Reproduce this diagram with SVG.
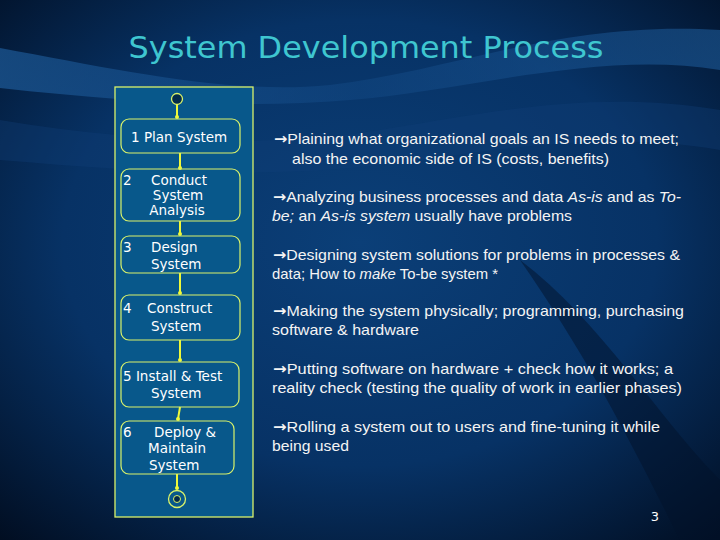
<svg xmlns="http://www.w3.org/2000/svg" width="720" height="540" viewBox="0 0 720 540">
<defs>
<radialGradient id="bg" cx="0.5" cy="0.45" r="0.75">
<stop offset="0" stop-color="#0b3f78"/>
<stop offset="0.55" stop-color="#073265"/>
<stop offset="1" stop-color="#010d20"/>
</radialGradient>
<linearGradient id="wave" x1="0" y1="0" x2="1" y2="0">
<stop offset="0" stop-color="#1d5a98" stop-opacity="0.7"/>
<stop offset="0.5" stop-color="#154d8a" stop-opacity="0.4"/>
<stop offset="1" stop-color="#1d5a98" stop-opacity="0.6"/>
</linearGradient>
<style>
.node{fill:none;stroke:#d9f26a;stroke-width:1.2}
.nt{font-family:"DejaVu Sans",Verdana,sans-serif;font-size:13.5px;fill:#ffffff}
.conn{stroke:#eef83a;stroke-width:2;fill:none}
.dot{fill:#eef83a}
.desc{font-family:"Liberation Sans",Tahoma,sans-serif;font-size:15px;fill:#f4f4f4}
.it{font-style:italic}
.ar{font-family:"DejaVu Sans",sans-serif;font-weight:bold}
</style>
</defs>
<rect x="0" y="0" width="720" height="540" fill="url(#bg)"/>
<path d="M0 48 C120 70 230 95 330 85 C450 72 560 20 720 30 L720 70 C600 50 470 90 350 100 C230 110 110 100 0 88 Z" fill="url(#wave)"/>
<path d="M0 120 C120 140 260 150 380 130 C500 110 600 90 720 110 L720 150 C600 130 500 150 380 165 C250 180 120 170 0 160 Z" fill="#103f78" opacity="0.35"/>
<path d="M520 260 C600 320 660 420 720 480 L720 540 L680 540 C640 460 590 360 520 260 Z" fill="#02122a" opacity="0.5"/>
<text x="366" y="58" text-anchor="middle" textLength="475" lengthAdjust="spacingAndGlyphs" font-family="'DejaVu Sans',Verdana,sans-serif" font-size="30" fill="#3fc6d0">System Development Process</text>

<g id="panel">
<rect x="115" y="87" width="138" height="430" fill="#08588b" stroke="#d9f26a" stroke-width="1.3"/>
</g>

<g id="connectors">
<line class="conn" x1="177" y1="104" x2="177" y2="117"/>
<circle class="dot" cx="177" cy="117" r="2"/>
<line class="conn" x1="180" y1="153" x2="180" y2="168"/>
<circle class="dot" cx="180" cy="168" r="2"/>
<line class="conn" x1="180" y1="221" x2="180" y2="234"/>
<circle class="dot" cx="180" cy="234" r="2"/>
<line class="conn" x1="180" y1="273" x2="180" y2="293"/>
<circle class="dot" cx="180" cy="293" r="2"/>
<line class="conn" x1="180" y1="340" x2="180" y2="360"/>
<circle class="dot" cx="180" cy="360" r="2"/>
<line class="conn" x1="180" y1="407" x2="178" y2="419"/>
<circle class="dot" cx="178" cy="419" r="2"/>
<line class="conn" x1="177" y1="474" x2="177" y2="488"/>
<circle class="dot" cx="177" cy="488" r="2"/>
</g>

<g id="start">
<circle cx="177" cy="99" r="5.5" fill="#032a4a" stroke="#d9f26a" stroke-width="1.3"/>
</g>
<g id="n1">
<rect class="node" x="121" y="119" width="119" height="34" rx="8"/>
<text class="nt" x="131" y="142">1 Plan System</text>
</g>
<g id="n2">
<rect class="node" x="121" y="169" width="119" height="52" rx="8"/>
<text class="nt" x="123" y="185">2</text>
<text class="nt" x="179" y="185" text-anchor="middle">Conduct</text>
<text class="nt" x="178" y="200" text-anchor="middle">System</text>
<text class="nt" x="177" y="215" text-anchor="middle">Analysis</text>
</g>
<g id="n3">
<rect class="node" x="121" y="236" width="119" height="37" rx="8"/>
<text class="nt" x="123" y="252">3</text>
<text class="nt" x="151" y="252">Design</text>
<text class="nt" x="151" y="269">System</text>
</g>
<g id="n4">
<rect class="node" x="121" y="295" width="119" height="45" rx="8"/>
<text class="nt" x="123" y="313">4</text>
<text class="nt" x="147" y="313">Construct</text>
<text class="nt" x="151" y="331">System</text>
</g>
<g id="n5">
<rect class="node" x="121" y="362" width="118" height="45" rx="8"/>
<text class="nt" x="123" y="381">5 Install &amp; Test</text>
<text class="nt" x="151" y="398">System</text>
</g>
<g id="n6">
<rect class="node" x="121" y="421" width="113" height="53" rx="8"/>
<text class="nt" x="123" y="437">6</text>
<text class="nt" x="154" y="437">Deploy &amp;</text>
<text class="nt" x="148" y="453">Maintain</text>
<text class="nt" x="149" y="470">System</text>
</g>
<g id="end">
<circle cx="177" cy="499" r="8.5" fill="none" stroke="#d9f26a" stroke-width="1.3"/>
<circle cx="177" cy="499" r="3.5" fill="#032a4a" stroke="#d9f26a" stroke-width="1"/>
</g>

<g id="descriptions">
<text class="desc" x="274" y="144" textLength="405" lengthAdjust="spacingAndGlyphs"><tspan class="ar">→</tspan>Plaining what organizational goals an IS needs to meet;</text>
<text class="desc" x="292" y="164" textLength="317" lengthAdjust="spacingAndGlyphs">also the economic side of IS (costs, benefits)</text>
<text class="desc" x="273" y="202" textLength="408" lengthAdjust="spacingAndGlyphs"><tspan class="ar">→</tspan>Analyzing business processes and data <tspan class="it">As-is</tspan> and as <tspan class="it">To-</tspan></text>
<text class="desc" x="272" y="221" textLength="300" lengthAdjust="spacingAndGlyphs"><tspan class="it">be;</tspan> an <tspan class="it">As-is system</tspan> usually have problems</text>
<text class="desc" x="273" y="260" textLength="407" lengthAdjust="spacingAndGlyphs"><tspan class="ar">→</tspan>Designing system solutions for problems in processes &amp;</text>
<text class="desc" x="272" y="279" textLength="226" lengthAdjust="spacingAndGlyphs">data; How to <tspan class="it">make</tspan> To-be system *</text>
<text class="desc" x="273" y="316" textLength="411" lengthAdjust="spacingAndGlyphs"><tspan class="ar">→</tspan>Making the system physically; programming, purchasing</text>
<text class="desc" x="272" y="335" textLength="147" lengthAdjust="spacingAndGlyphs">software &amp; hardware</text>
<text class="desc" x="273" y="374" textLength="400" lengthAdjust="spacingAndGlyphs"><tspan class="ar">→</tspan>Putting software on hardware + check how it works; a</text>
<text class="desc" x="272" y="393" textLength="410" lengthAdjust="spacingAndGlyphs">reality check (testing the quality of work in earlier phases)</text>
<text class="desc" x="273" y="432" textLength="387" lengthAdjust="spacingAndGlyphs"><tspan class="ar">→</tspan>Rolling a system out to users and fine-tuning it while</text>
<text class="desc" x="272" y="451" textLength="77" lengthAdjust="spacingAndGlyphs">being used</text>
</g>
<text x="655" y="521" text-anchor="middle" font-family="'DejaVu Sans',Verdana,sans-serif" font-size="13" fill="#ffffff">3</text>
</svg>
